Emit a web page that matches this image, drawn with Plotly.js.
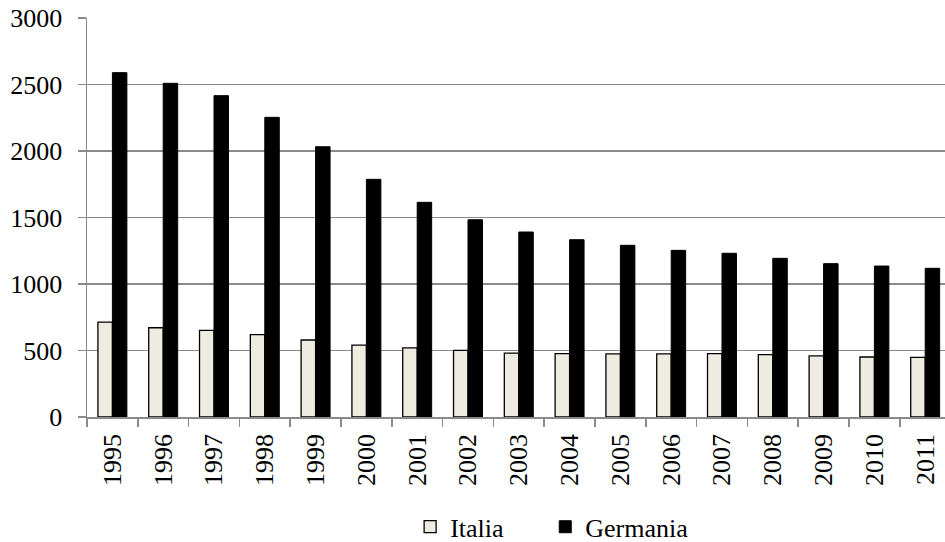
<!DOCTYPE html>
<html>
<head>
<meta charset="utf-8">
<script src="https://cdn.plot.ly/plotly-3.0.1.min.js"></script>
<style>
  html, body { margin: 0; padding: 0; background: #fff; }
  #chart { width: 945px; height: 542px; }
</style>
</head>
<body>
<div id="chart"></div>
<script>
const years = ['1995','1996','1997','1998','1999','2000','2001','2002','2003',
               '2004','2005','2006','2007','2008','2009','2010','2011'];
const italia = [714, 671, 652, 619, 579, 541, 519, 501, 481,
                476, 474, 474, 476, 469, 459, 451, 449];
const germania = [2589, 2509, 2416, 2253, 2032, 1787, 1614, 1483, 1391,
                  1333, 1291, 1253, 1231, 1193, 1153, 1135, 1118];
const yTicks = [0, 500, 1000, 1500, 2000, 2500, 3000];

const serif = '"Liberation Serif", serif';
const axisGray = '#8a8a8a';

const traces = [
  {
    type: 'bar', name: 'Italia', x: years, y: italia, legend: 'legend',
    marker: { color: '#EEEBE0', line: { color: '#000', width: 1.3 } }
  },
  {
    type: 'bar', name: 'Germania', x: years, y: germania, legend: 'legend2',
    marker: { color: '#000', line: { color: '#000', width: 1 } }
  }
];

// one legend box per series so the two entries can be spaced freely
const legendBase = {
  orientation: 'h', xanchor: 'left',
  xref: 'container', yref: 'container', y: 0.028, yanchor: 'middle',
  font: { family: serif, size: 26 }
};

const layout = {
  width: 945, height: 542,
  margin: { l: 87, r: 0, t: 18, b: 125, autoexpand: false },
  paper_bgcolor: '#fff', plot_bgcolor: '#fff',
  font: { family: serif, size: 26, color: '#000' },
  barmode: 'group',
  bargap: 0.43,
  bargroupgap: 0,
  showlegend: true,
  legend: Object.assign({}, legendBase, { x: 0.434 }),
  legend2: Object.assign({}, legendBase, { x: 0.577 }),
  xaxis: {
    type: 'category', range: [-0.5, 16.39], tickangle: -90, tickson: 'boundaries',
    ticks: 'outside', ticklen: 8, tickcolor: axisGray, tickwidth: 1.5,
    ticklabelstandoff: 5,
    showline: true, linecolor: axisGray, linewidth: 1.5,
    showgrid: false, automargin: false, tickfont: { family: serif, size: 26 }
  },
  yaxis: {
    range: [0, 3000], tickvals: yTicks, ticktext: yTicks.map(String),
    ticks: 'outside', ticklen: 8, tickcolor: axisGray, tickwidth: 1.5,
    ticklabelstandoff: 10,
    showline: true, linecolor: axisGray, linewidth: 1.5,
    showgrid: true, gridcolor: axisGray, gridwidth: 1.5,
    zeroline: false, automargin: false, tickfont: { family: serif, size: 26 }
  }
};

Plotly.newPlot('chart', traces, layout, { displayModeBar: false, staticPlot: true });
</script>
</body>
</html>
